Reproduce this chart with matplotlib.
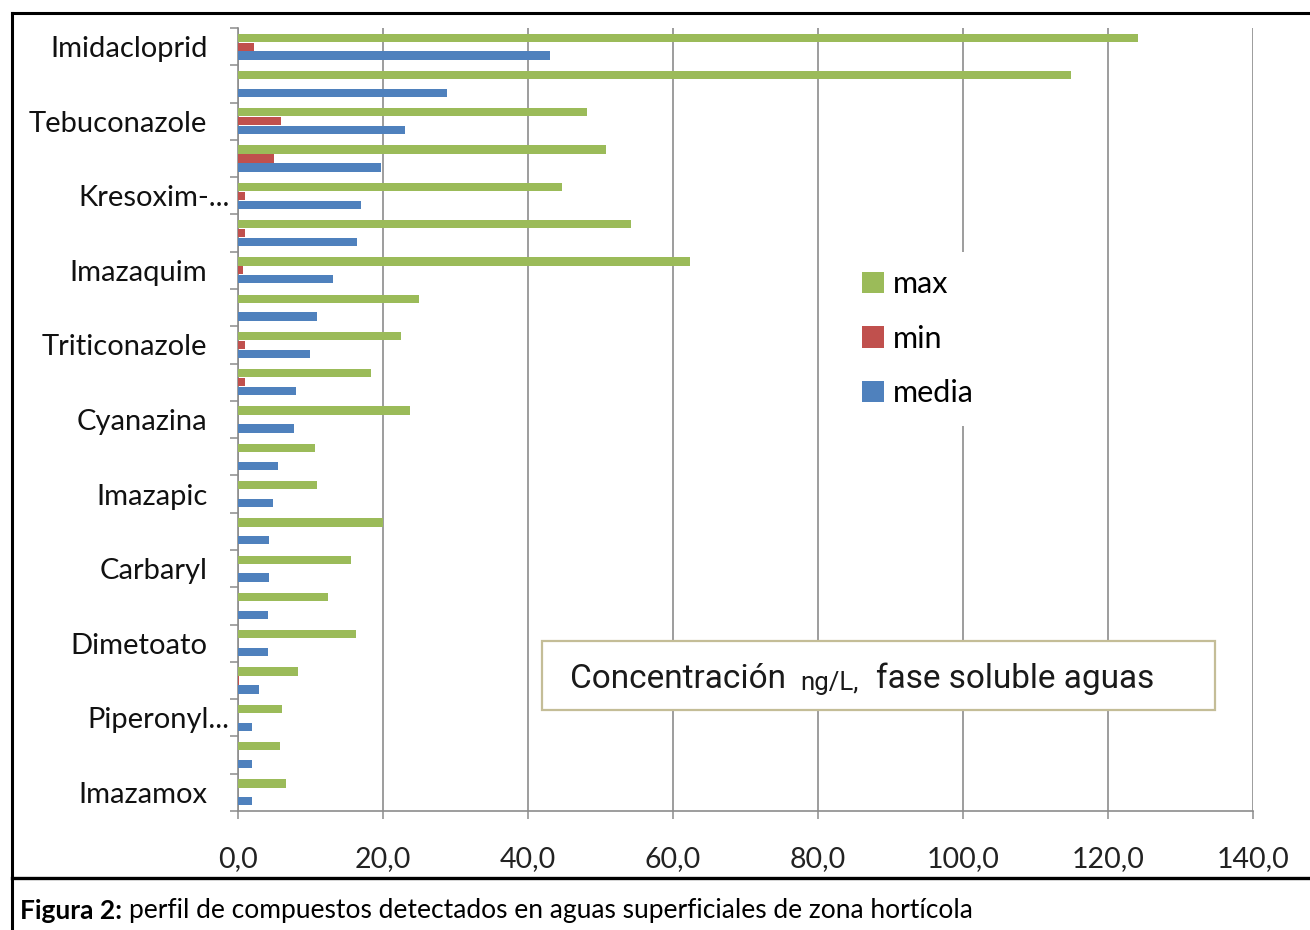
import numpy as np
import matplotlib
matplotlib.use("Agg")
import matplotlib.pyplot as plt
from matplotlib.patches import Rectangle
from matplotlib.lines import Line2D
from matplotlib import transforms

# concentraciones (ng/L) por compuesto, de arriba a abajo
compuestos = ["Imidacloprid", "", "Tebuconazole", "", "Kresoxim-...", "",
              "Imazaquim", "", "Triticonazole", "", "Cyanazina", "",
              "Imazapic", "", "Carbaryl", "", "Dimetoato", "",
              "Piperonyl...", "", "Imazamox"]
c_max = [124.1, 114.9, 48.1, 50.8, 44.7, 54.2, 62.3, 25.0, 22.5, 18.3, 23.7,
         10.6, 10.9, 20.0, 15.6, 12.4, 16.3, 8.3, 6.0, 5.8, 6.6]
c_min = [2.2, 0.0, 5.9, 5.0, 1.0, 1.0, 0.7, 0.0, 1.0, 1.0, 0.0,
         0.0, 0.0, 0.0, 0.0, 0.0, 0.0, 0.2, 0.0, 0.0, 0.0]
c_media = [43.0, 28.8, 23.0, 19.7, 17.0, 16.4, 13.1, 10.9, 9.9, 8.0, 7.7,
           5.5, 4.8, 4.3, 4.3, 4.1, 4.1, 2.9, 1.9, 1.9, 1.9]
xticks = [0, 20, 40, 60, 80, 100, 120, 140]

verde, rojo, azul = "#9BBB59", "#C0504D", "#4F81BD"
gris = "#8C8C8C"
plt.rcParams["font.family"] = ["Lato", "DejaVu Sans"]

W, H = 1310, 930
fig = plt.figure(figsize=(W / 100, H / 100), dpi=100)
ax = fig.add_axes([238 / W, (H - 811) / H, 1015 / W, 783 / H])

y = np.arange(len(compuestos))
alto, desp = 0.22, 0.24
ax.barh(y - desp, c_max, height=alto, color=verde, label="max", zorder=3)
ax.barh(y, c_min, height=alto, color=rojo, label="min", zorder=3)
ax.barh(y + desp, c_media, height=alto, color=azul, label="media", zorder=3)

ax.set_xlim(0, 140)
ax.set_ylim(len(y) - 0.5, -0.5)

ax.set_xticks(xticks)
ax.set_xticklabels([f"{v:.1f}".replace(".", ",") for v in xticks],
                   fontsize=20.5, color="#222222")
ax.set_yticks(y)
ax.set_yticklabels(compuestos, fontsize=21, color="#111111")
ax.set_yticks(np.arange(-0.5, len(y)), minor=True)
ax.tick_params(axis="y", which="major", length=0, pad=22)
ax.tick_params(axis="y", which="minor", length=6, width=1.1, color=gris)
ax.tick_params(axis="x", length=6, width=1.1, color=gris, pad=19)

# las etiquetas truncadas quedan algo más a la derecha
for lab in ax.get_yticklabels():
    if lab.get_text().endswith("..."):
        lab.set_transform(lab.get_transform() +
                          transforms.ScaledTranslation(0.22, 0, fig.dpi_scale_trans))

ax.grid(axis="x", color=gris, linewidth=1.2, zorder=0)
for s in ["top", "right"]:
    ax.spines[s].set_visible(False)
for s in ["left", "bottom"]:
    ax.spines[s].set_color(gris)
    ax.spines[s].set_linewidth(1.2)

leg = ax.legend(loc="center", bbox_to_anchor=(0.67, 0.603), frameon=True,
                facecolor="white", edgecolor="none", framealpha=1, fancybox=False,
                handlelength=0.7, handleheight=0.7, handletextpad=0.3,
                labelspacing=0.87, borderpad=0.6, fontsize=22)
leg.set_zorder(5)

# recuadro con la unidad
ax.add_patch(Rectangle((542 / W, (H - 710) / H), 673 / W, 69 / H,
                       transform=fig.transFigure, facecolor="white",
                       edgecolor="#C4BD97", linewidth=1.6, zorder=6,
                       clip_on=False))
fuente_caja = ["Roboto", "DejaVu Sans"]
base = 1 - 688 / H
t_conc = ax.text(570 / W, base, "Concentración", fontsize=24, family=fuente_caja,
                 transform=fig.transFigure, va="baseline", color="#1A1A1A",
                 zorder=7)
t_unid = ax.annotate("ng/L,", xy=(1, 0), xycoords=t_conc, xytext=(10, 0),
                     textcoords="offset points", fontsize=18.5, family=fuente_caja,
                     va="bottom", color="#1A1A1A", annotation_clip=False, zorder=7)
ax.annotate("fase soluble aguas", xy=(1, 0), xycoords=t_unid, xytext=(13, 0),
            textcoords="offset points", fontsize=24, family=fuente_caja,
            va="bottom", color="#1A1A1A", annotation_clip=False, zorder=7)

# marco y pie de figura
for xs, ys, lw in [((12, W), (13, 13), 2.2), ((12, 12), (13, H), 2.2),
                   ((12, W), (878, 878), 2.4)]:
    fig.add_artist(Line2D([x / W for x in xs], [1 - v / H for v in ys],
                          color="black", linewidth=lw,
                          transform=fig.transFigure))

t1 = fig.text(20 / W, 1 - 919 / H, "Figura 2:", fontsize=19, weight="bold",
              va="baseline")
ax.annotate("perfil de compuestos detectados en aguas superficiales de zona hortícola",
            xy=(1, 0), xycoords=t1, xytext=(5, 0), textcoords="offset points",
            fontsize=19, va="bottom", annotation_clip=False)

fig.savefig("out.png", dpi=100)
